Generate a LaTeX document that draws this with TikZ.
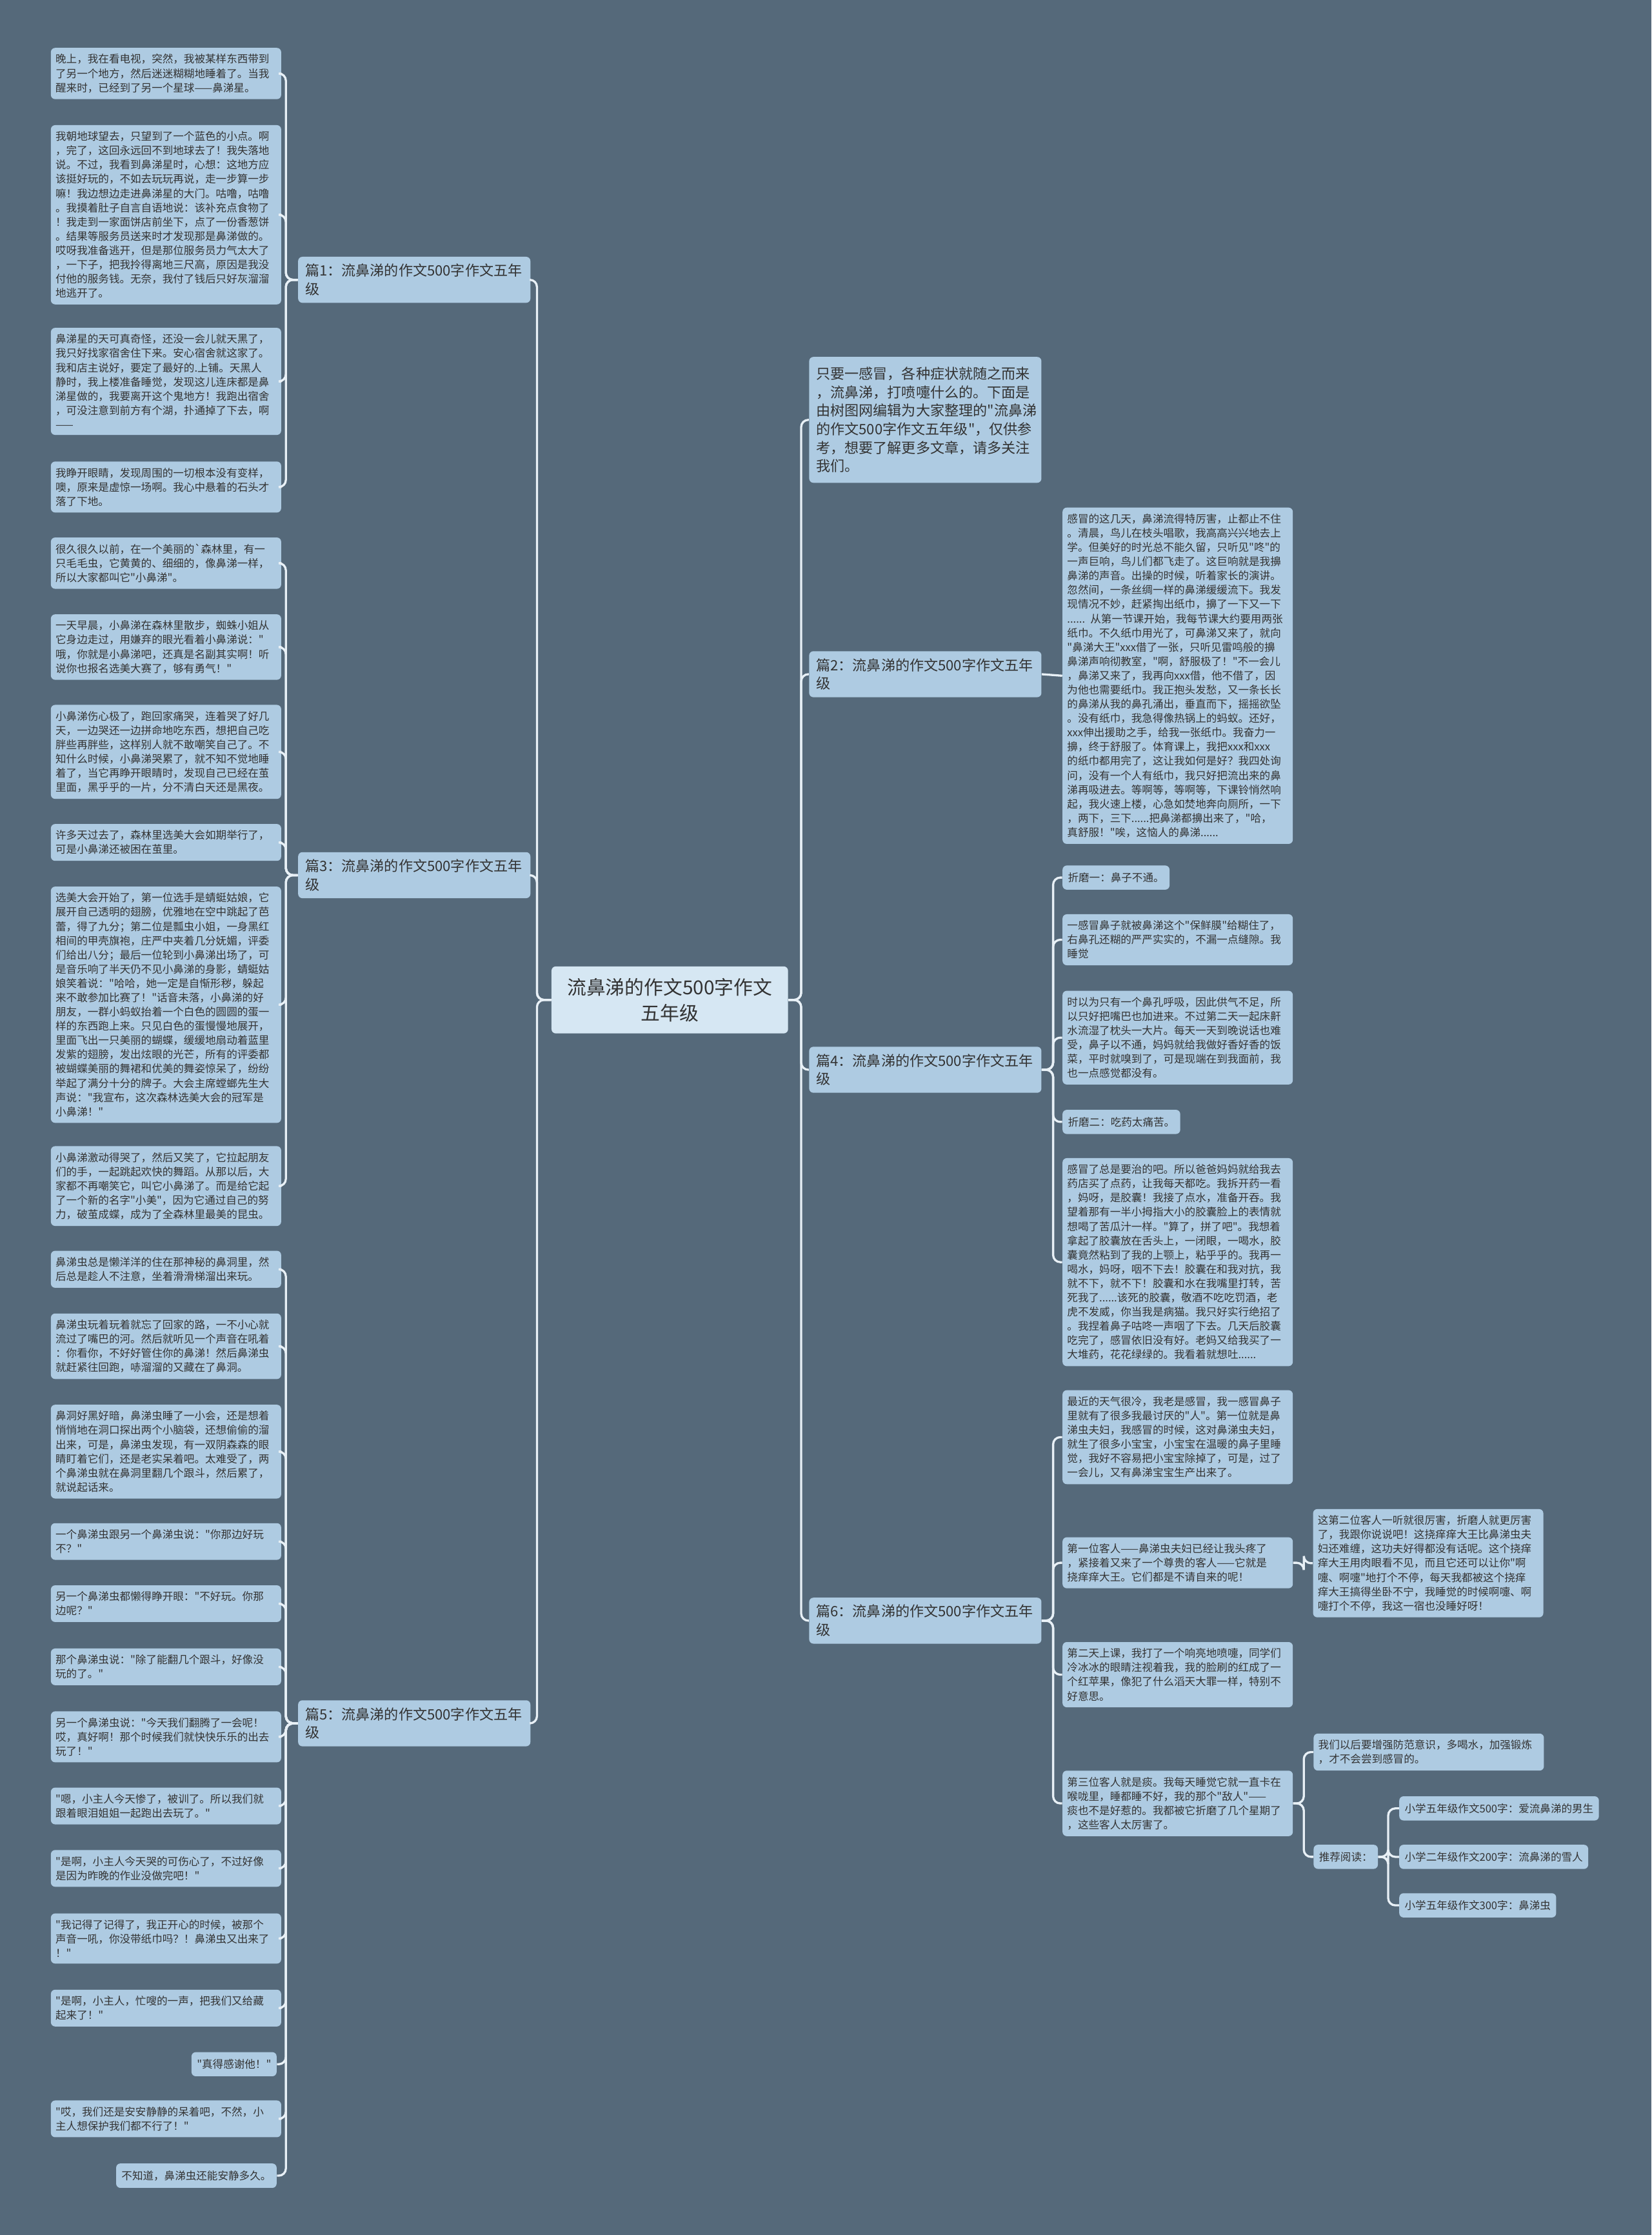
\documentclass[tikz,border=0pt]{standalone}
\usepackage{fontspec}
\newfontfamily\cjk{Noto Sans CJK SC}
\definecolor{bgcol}{RGB}{85,105,122}
\definecolor{leafcol}{RGB}{174,203,226}
\definecolor{rootcol}{RGB}{214,231,243}
\definecolor{txtcol}{RGB}{51,51,51}
\definecolor{linecol}{RGB}{232,240,246}
\tikzset{
  leaf/.style={fill=leafcol, text=txtcol, rounded corners=3pt, font=\cjk\fontsize{7.5}{10}\selectfont,
    inner xsep=3.3pt, inner ysep=4.4pt, text width=155pt, align=left, anchor=north west},
  tag/.style={fill=leafcol, text=txtcol, rounded corners=3pt, font=\cjk\fontsize{7.5}{10}\selectfont,
    inner xsep=3.8pt, inner ysep=5pt, anchor=north west},
  branch/.style={fill=leafcol, text=txtcol, rounded corners=3pt, font=\cjk\fontsize{10}{13}\selectfont,
    inner xsep=5pt, inner ysep=5pt, text width=153pt, align=left, anchor=west},
  intro/.style={branch, inner ysep=7pt, anchor=north west},
  root/.style={fill=rootcol, text=txtcol, rounded corners=3pt, font=\cjk\fontsize{13.5}{18}\selectfont,
    minimum width=166pt, minimum height=47pt, align=center},
  link/.style={draw=linecol, line width=1.5pt, rounded corners=5pt}
}
\begin{document}
\begin{tikzpicture}[x=1pt,y=-1pt]
  % 背景
  \fill[bgcol] (0,0) rectangle (1159,1568);

  % 中心主题
  \node[root] (root) at (470,701.5) {流鼻涕的作文500字作文\\五年级};

  % 左侧三篇
  \node[branch] (s1) at (209,196.3) {篇1：流鼻涕的作文500字作文五年\\级};
  \node[branch] (s3) at (209,614) {篇3：流鼻涕的作文500字作文五年\\级};
  \node[branch] (s5) at (209,1209) {篇5：流鼻涕的作文500字作文五年\\级};

  % 右侧
  \node[intro] (intro) at (567.6,250.2) {只要一感冒，各种症状就随之而来\\，流鼻涕，打喷嚏什么的。下面是\\由树图网编辑为大家整理的"流鼻涕\\的作文500字作文五年级"，仅供参\\考，想要了解更多文章，请多关注\\我们。};
  \node[branch] (s2) at (567.6,473) {篇2：流鼻涕的作文500字作文五年\\级};
  \node[branch] (s4) at (567.6,750.5) {篇4：流鼻涕的作文500字作文五年\\级};
  \node[branch] (s6) at (567.6,1137) {篇6：流鼻涕的作文500字作文五年\\级};

  % 篇1
  \node[leaf] (s1a) at (35.5,33.4) {晚上，我在看电视，突然，我被某样东西带到\\了另一个地方，然后迷迷糊糊地睡着了。当我\\醒来时，已经到了另一个星球——鼻涕星。};
  \node[leaf] (s1b) at (35.5,87.6) {我朝地球望去，只望到了一个蓝色的小点。啊\\，完了，这回永远回不到地球去了！我失落地\\说。不过，我看到鼻涕星时，心想：这地方应\\该挺好玩的，不如去玩玩再说，走一步算一步\\嘛！我边想边走进鼻涕星的大门。咕噜，咕噜\\。我摸着肚子自言自语地说：该补充点食物了\\！我走到一家面饼店前坐下，点了一份香葱饼\\。结果等服务员送来时才发现那是鼻涕做的。\\哎呀我准备逃开，但是那位服务员力气太大了\\，一下子，把我拎得离地三尺高，原因是我没\\付他的服务钱。无奈，我付了钱后只好灰溜溜\\地逃开了。};
  \node[leaf] (s1c) at (35.5,229.8) {鼻涕星的天可真奇怪，还没一会儿就天黑了，\\我只好找家宿舍住下来。安心宿舍就这家了。\\我和店主说好，要定了最好的.上铺。天黑人\\静时，我上楼准备睡觉，发现这儿连床都是鼻\\涕星做的，我要离开这个鬼地方！我跑出宿舍\\，可没注意到前方有个湖，扑通掉了下去，啊\\——};
  \node[leaf] (s1d) at (35.5,323.6) {我睁开眼睛，发现周围的一切根本没有变样，\\噢，原来是虚惊一场啊。我心中悬着的石头才\\落了下地。};

  % 篇3
  \node[leaf] (s3a) at (35.5,376.9) {很久很久以前，在一个美丽的`森林里，有一\\只毛毛虫，它黄黄的、细细的，像鼻涕一样，\\所以大家都叫它"小鼻涕"。};
  \node[leaf] (s3b) at (35.5,430.8) {一天早晨，小鼻涕在森林里散步，蜘蛛小姐从\\它身边走过，用嫌弃的眼光看着小鼻涕说："\\哦，你就是小鼻涕吧，还真是名副其实啊！听\\说你也报名选美大赛了，够有勇气！"};
  \node[leaf] (s3c) at (35.5,494.3) {小鼻涕伤心极了，跑回家痛哭，连着哭了好几\\天，一边哭还一边拼命地吃东西，想把自己吃\\胖些再胖些，这样别人就不敢嘲笑自己了。不\\知什么时候，小鼻涕哭累了，就不知不觉地睡\\着了，当它再睁开眼睛时，发现自己已经在茧\\里面，黑乎乎的一片，分不清白天还是黑夜。};
  \node[leaf] (s3d) at (35.5,577.9) {许多天过去了，森林里选美大会如期举行了，\\可是小鼻涕还被困在茧里。};
  \node[leaf] (s3e) at (35.5,621.8) {选美大会开始了，第一位选手是蜻蜓姑娘，它\\展开自己透明的翅膀，优雅地在空中跳起了芭\\蕾，得了九分；第二位是瓢虫小姐，一身黑红\\相间的甲壳旗袍，庄严中夹着几分妩媚，评委\\们给出八分；最后一位轮到小鼻涕出场了，可\\是音乐响了半天仍不见小鼻涕的身影，蜻蜓姑\\娘笑着说："哈哈，她一定是自惭形秽，躲起\\来不敢参加比赛了！"话音未落，小鼻涕的好\\朋友，一群小蚂蚁抬着一个白色的圆圆的蛋一\\样的东西跑上来。只见白色的蛋慢慢地展开，\\里面飞出一只美丽的蝴蝶，缓缓地扇动着蓝里\\发紫的翅膀，发出炫眼的光芒，所有的评委都\\被蝴蝶美丽的舞裙和优美的舞姿惊呆了，纷纷\\举起了满分十分的牌子。大会主席螳螂先生大\\声说："我宣布，这次森林选美大会的冠军是\\小鼻涕！"};
  \node[leaf] (s3f) at (35.5,803.9) {小鼻涕激动得哭了，然后又笑了，它拉起朋友\\们的手，一起跳起欢快的舞蹈。从那以后，大\\家都不再嘲笑它，叫它小鼻涕了。而是给它起\\了一个新的名字"小美"，因为它通过自己的努\\力，破茧成蝶，成为了全森林里最美的昆虫。};

  % 篇5
  \node[leaf] (s5a) at (35.5,877.3) {鼻涕虫总是懒洋洋的住在那神秘的鼻洞里，然\\后总是趁人不注意，坐着滑滑梯溜出来玩。};
  \node[leaf] (s5b) at (35.5,921.3) {鼻涕虫玩着玩着就忘了回家的路，一不小心就\\流过了嘴巴的河。然后就听见一个声音在吼着\\：你看你，不好好管住你的鼻涕！然后鼻涕虫\\就赶紧往回跑，哧溜溜的又藏在了鼻洞。};
  \node[leaf] (s5c) at (35.5,985.3) {鼻洞好黑好暗，鼻涕虫睡了一小会，还是想着\\悄悄地在洞口探出两个小脑袋，还想偷偷的溜\\出来，可是，鼻涕虫发现，有一双阴森森的眼\\睛盯着它们，还是老实呆着吧。太难受了，两\\个鼻涕虫就在鼻洞里翻几个跟斗，然后累了，\\就说起话来。};
  \node[leaf] (s5d) at (35.5,1068.4) {一个鼻涕虫跟另一个鼻涕虫说："你那边好玩\\不？"};
  \node[leaf] (s5e) at (35.5,1112) {另一个鼻涕虫都懒得睁开眼："不好玩。你那\\边呢？"};
  \node[leaf] (s5f) at (35.5,1156.3) {那个鼻涕虫说："除了能翻几个跟斗，好像没\\玩的了。"};
  \node[leaf] (s5g) at (35.5,1200.4) {另一个鼻涕虫说："今天我们翻腾了一会呢！\\哎，真好啊！那个时候我们就快快乐乐的出去\\玩了！"};
  \node[leaf] (s5h) at (35.5,1253.9) {"嗯，小主人今天惨了，被训了。所以我们就\\跟着眼泪姐姐一起跑出去玩了。"};
  \node[leaf] (s5i) at (35.5,1297.7) {"是啊，小主人今天哭的可伤心了，不过好像\\是因为昨晚的作业没做完吧！"};
  \node[leaf] (s5j) at (35.5,1342.2) {"我记得了记得了，我正开心的时候，被那个\\声音一吼，你没带纸巾吗？！鼻涕虫又出来了\\！"};
  \node[leaf] (s5k) at (35.5,1395.7) {"是啊，小主人，忙嗖的一声，把我们又给藏\\起来了！"};
  \node[tag, anchor=north east] (s5l) at (194.3,1439.5) {"真得感谢他！"};
  \node[leaf] (s5m) at (35.5,1473.4) {"哎，我们还是安安静静的呆着吧，不然，小\\主人想保护我们都不行了！"};
  \node[tag, anchor=north east] (s5n) at (194.3,1517.6) {不知道，鼻涕虫还能安静多久。};

  % 篇2
  \node[leaf] (s2a) at (745.4,355.9) {感冒的这几天，鼻涕流得特厉害，止都止不住\\。清晨，鸟儿在枝头唱歌，我高高兴兴地去上\\学。但美好的时光总不能久留，只听见"咚"的\\一声巨响，鸟儿们都飞走了。这巨响就是我擤\\鼻涕的声音。出操的时候，听着家长的演讲。\\忽然间，一条丝绸一样的鼻涕缓缓流下。我发\\现情况不妙，赶紧掏出纸巾，擤了一下又一下\\...... 从第一节课开始，我每节课大约要用两张\\纸巾。不久纸巾用光了，可鼻涕又来了，就向\\"鼻涕大王"xxx借了一张，只听见雷鸣般的擤\\鼻涕声响彻教室，"啊，舒服极了！"不一会儿\\，鼻涕又来了，我再向xxx借，他不借了，因\\为他也需要纸巾。我正抱头发愁，又一条长长\\的鼻涕从我的鼻孔涌出，垂直而下，摇摇欲坠\\。没有纸巾，我急得像热锅上的蚂蚁。还好，\\xxx伸出援助之手，给我一张纸巾。我奋力一\\擤，终于舒服了。体育课上，我把xxx和xxx\\的纸巾都用完了，这让我如何是好？我四处询\\问，没有一个人有纸巾，我只好把流出来的鼻\\涕再吸进去。等啊等，等啊等，下课铃悄然响\\起，我火速上楼，心急如焚地奔向厕所，一下\\，两下，三下......把鼻涕都擤出来了，"哈，\\真舒服！"唉，这恼人的鼻涕......};

  % 篇4
  \node[tag] (s4a) at (745.4,607) {折磨一：鼻子不通。};
  \node[leaf] (s4b) at (745.4,641.2) {一感冒鼻子就被鼻涕这个"保鲜膜"给糊住了，\\右鼻孔还糊的严严实实的，不漏一点缝隙。我\\睡觉};
  \node[leaf] (s4c) at (745.4,694.9) {时以为只有一个鼻孔呼吸，因此供气不足，所\\以只好把嘴巴也加进来。不过第二天一起床鼾\\水流湿了枕头一大片。每天一天到晚说话也难\\受，鼻子以不通，妈妈就给我做好香好香的饭\\菜，平时就嗅到了，可是现端在到我面前，我\\也一点感觉都没有。};
  \node[tag] (s4d) at (745.4,778.4) {折磨二：吃药太痛苦。};
  \node[leaf] (s4e) at (745.4,812.3) {感冒了总是要治的吧。所以爸爸妈妈就给我去\\药店买了点药，让我每天都吃。我拆开药一看\\，妈呀，是胶囊！我接了点水，准备开吞。我\\望着那有一半小拇指大小的胶囊脸上的表情就\\想喝了苦瓜汁一样。"算了，拼了吧"。我想着\\拿起了胶囊放在舌头上，一闭眼，一喝水，胶\\囊竟然粘到了我的上颚上，粘乎乎的。我再一\\喝水，妈呀，咽不下去！胶囊在和我对抗，我\\就不下，就不下！胶囊和水在我嘴里打转，苦\\死我了......该死的胶囊，敬酒不吃吃罚酒，老\\虎不发威，你当我是病猫。我只好实行绝招了\\。我捏着鼻子咕咚一声咽了下去。几天后胶囊\\吃完了，感冒依旧没有好。老妈又给我买了一\\大堆药，花花绿绿的。我看着就想吐......};

  % 篇6
  \node[leaf] (s6a) at (745.4,975.1) {最近的天气很冷，我老是感冒，我一感冒鼻子\\里就有了很多我最讨厌的"人"。第一位就是鼻\\涕虫夫妇，我感冒的时候，这对鼻涕虫夫妇，\\就生了很多小宝宝，小宝宝在温暖的鼻子里睡\\觉，我好不容易把小宝宝除掉了，可是，过了\\一会儿，又有鼻涕宝宝生产出来了。};
  \node[leaf] (s6b) at (745.4,1078.3) {第一位客人——鼻涕虫夫妇已经让我头疼了\\，紧接着又来了一个尊贵的客人——它就是\\挠痒痒大王。它们都是不请自来的呢！};
  \node[leaf] (s6b1) at (921.2,1058.5) {这第二位客人一听就很厉害，折磨人就更厉害\\了，我跟你说说吧！这挠痒痒大王比鼻涕虫夫\\妇还难缠，这功夫好得都没有话呢。这个挠痒\\痒大王用肉眼看不见，而且它还可以让你"啊\\嚏、啊嚏"地打个不停，每天我都被这个挠痒\\痒大王搞得坐卧不宁，我睡觉的时候啊嚏、啊\\嚏打个不停，我这一宿也没睡好呀！};
  \node[leaf] (s6c) at (745.4,1151.8) {第二天上课，我打了一个响亮地喷嚏，同学们\\冷冰冰的眼睛注视着我，我的脸刷的红成了一\\个红苹果，像犯了什么滔天大罪一样，特别不\\好意思。};
  \node[leaf] (s6d) at (745.4,1242) {第三位客人就是痰。我每天睡觉它就一直卡在\\喉咙里，睡都睡不好，我的那个"敌人"——\\痰也不是好惹的。我都被它折磨了几个星期了\\，这些客人太厉害了。};
  \node[leaf] (s6d1) at (921.6,1216) {我们以后要增强防范意识，多喝水，加强锻炼\\，才不会尝到感冒的。};
  \node[tag] (s6d2) at (921.6,1294) {推荐阅读：};
  \node[tag] (s6d2a) at (981.7,1260) {小学五年级作文500字：爱流鼻涕的男生};
  \node[tag] (s6d2b) at (981.7,1294) {小学二年级作文200字：流鼻涕的雪人};
  \node[tag] (s6d2c) at (981.7,1328) {小学五年级作文300字：鼻涕虫};

  % 连线
  \foreach \s in {s1,s3,s5}
    \draw[link] (root.west) -- ++(-10,0) |- (\s.east);
  \foreach \s in {intro,s2,s4,s6}
    \draw[link] (root.east) -- ++(9,0) |- (\s.west);
  \foreach \k in {a,b,c,d}
    \draw[link] (s1.west) -- ++(-8.4,0) |- (s1\k.east);
  \foreach \k in {a,b,c,d,e,f}
    \draw[link] (s3.west) -- ++(-8.4,0) |- (s3\k.east);
  \foreach \k in {a,b,c,d,e,f,g,h,i,j,k,l,m,n}
    \draw[link] (s5.west) -- ++(-8.4,0) |- (s5\k.east);
  \draw[link] (s2.east) -- (s2a.west);
  \foreach \k in {a,b,c,d,e}
    \draw[link] (s4.east) -- ++(8,0) |- (s4\k.west);
  \foreach \k in {a,b,c,d}
    \draw[link] (s6.east) -- ++(8,0) |- (s6\k.west);
  \draw[link] (s6b.east) -- ++(7.5,0) |- (s6b1.west);
  \draw[link] (s6d.east) -- ++(7.5,0) |- (s6d1.west);
  \draw[link] (s6d.east) -- ++(7.5,0) |- (s6d2.west);
  \foreach \k in {a,b,c}
    \draw[link] (s6d2.east) -- ++(7,0) |- (s6d2\k.west);
\end{tikzpicture}
\end{document}
